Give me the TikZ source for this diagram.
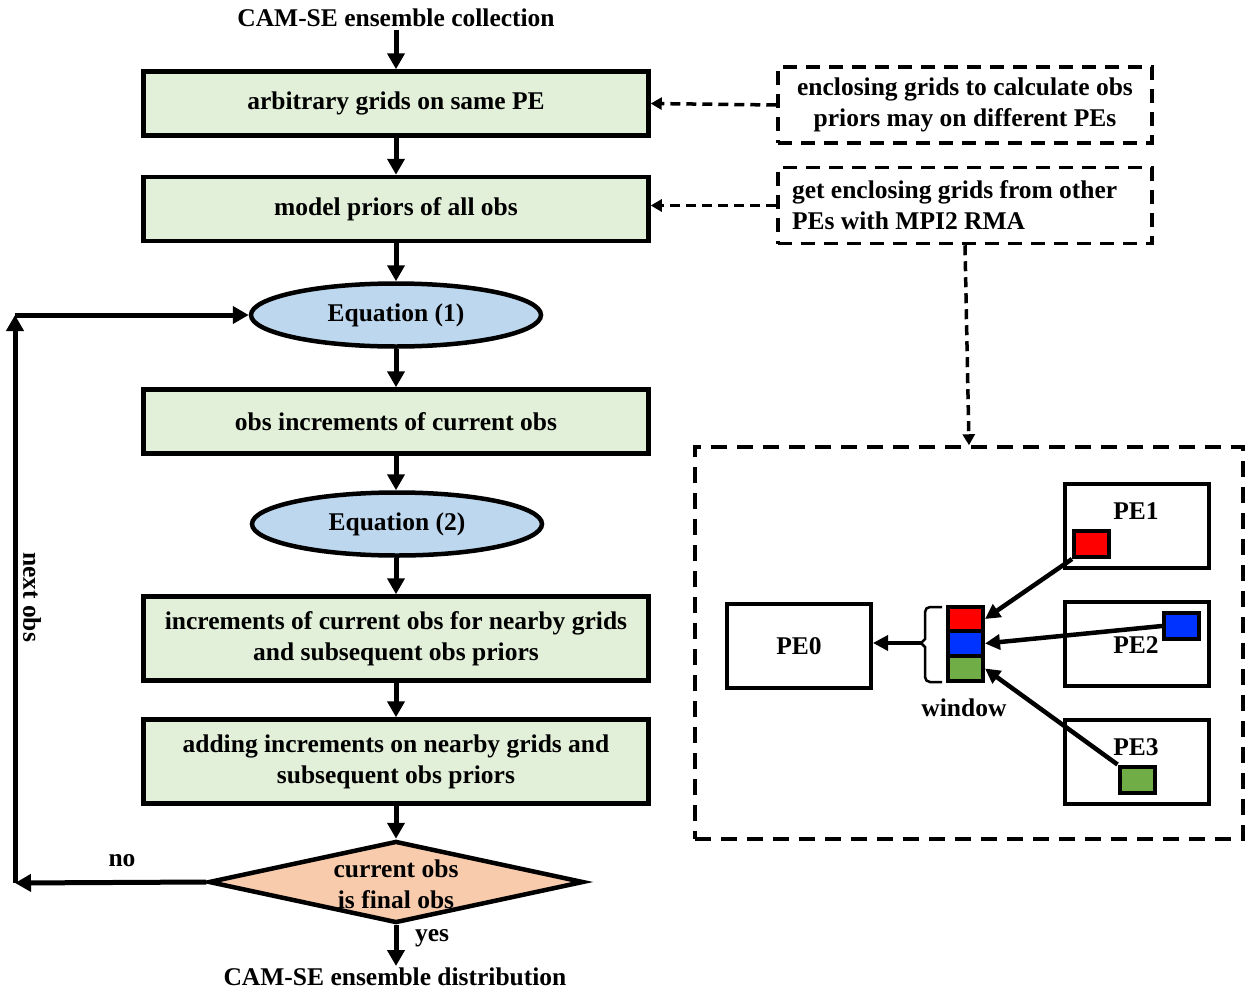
\documentclass[tikz,border=0pt]{standalone}
\usepackage{fontspec}
\setmainfont{Liberation Serif}
\usetikzlibrary{arrows.meta,shapes.geometric,positioning,calc}
\definecolor{boxgreen}{HTML}{E2EFD9}
\definecolor{ellblue}{HTML}{BDD7EE}
\definecolor{diaorange}{HTML}{F8CBAD}
\definecolor{sqred}{HTML}{FF0000}
\definecolor{sqblue}{HTML}{0033FF}
\definecolor{sqgreen}{HTML}{70AD47}
\begin{document}
\begin{tikzpicture}[x=1pt,y=-1pt,
  every node/.style={font=\fontsize{25.5}{31}\selectfont\bfseries, text=black},
  flowbox/.style={draw, line width=4.5pt, fill=boxgreen, minimum width=505pt, minimum height=64pt, inner sep=0pt, align=center},
  flowbox2/.style={flowbox, minimum height=84pt},
  eqell/.style={draw, ellipse, line width=4.5pt, fill=ellblue, minimum width=290pt, minimum height=63pt, inner sep=0pt},
  decdia/.style={draw, diamond, line width=4.5pt, fill=diaorange, minimum width=375pt, minimum height=82pt, inner sep=0pt},
  notebox/.style={draw, line width=3.5pt, dash pattern=on 14pt off 9pt, minimum width=374pt, minimum height=76pt, inner sep=0pt},
  pebox/.style={draw, line width=4pt, minimum width=144pt, minimum height=84pt, inner sep=0pt},
  sq/.style={draw, line width=4pt, minimum width=35pt, minimum height=26pt, inner sep=0pt},
  wsq/.style={draw, line width=4pt, minimum width=35pt, minimum height=25pt, inner sep=0pt},
  flow/.style={line width=5pt, -{Triangle[length=16pt,width=17pt]}},
  dflow/.style={line width=3.5pt, dash pattern=on 10pt off 6pt, -{Triangle[length=11pt,width=12pt]}},
  thinflow/.style={line width=4.5pt, -{Triangle[length=15pt,width=15pt]}}
]
\useasboundingbox (0,0) rectangle (1245,993);

% left flowchart
\node (top) at (396,18) {CAM-SE ensemble collection};
\node[flowbox] (b1) at (396,103.5) {\raisebox{-2pt}{arbitrary grids on same PE}};
\node[flowbox] (b2) at (396,209) {\raisebox{-2pt}{model priors of all obs}};
\node[eqell] (e1) at (396,315) {Equation (1)};
\node[flowbox] (b3) at (396,421.5) {obs increments of current obs};
\node[eqell] (e2) at (397,524) {Equation (2)};
\node[flowbox2] (b4) at (396,638.5) {increments of current obs for nearby grids\\and subsequent obs priors};
\node[flowbox2] (b5) at (396,761.5) {adding increments on nearby grids and\\subsequent obs priors};
\node[decdia] (dec) at (396,882) {};
\node[align=center] (dectext) at (396,884) {current obs\\is final obs};
\node (bot) at (395,977) {CAM-SE ensemble distribution};
\node (yes) at (432,938) {yes};
\node (no) at (122,861) {no};
\node[rotate=-90] (next) at (32,597) {next obs};

\coordinate (cb) at (15,883);
\coordinate (ct) at (15,315);
\coordinate (ytop) at (396,30);
\coordinate (ybot) at (396,966);

\draw[flow] (ytop) -- (b1.north);
\draw[flow] (b1.south) -- (b2.north);
\draw[flow] (b2.south) -- (e1.north);
\draw[flow] (e1.south) -- (b3.north);
\draw[flow] (b3.south) -- (b3.south |- e2.north);
\draw[flow] (e2.south -| b4.north) -- (b4.north);
\draw[flow] (b4.south) -- (b5.north);
\draw[flow] (b5.south) -- (dec.north);
\draw[flow] (dec.south) -- (ybot);
\draw[flow] (dec.west) -- (cb);
\draw[flow] (cb) -- (ct);
\draw[flow] (ct) -- (e1.west);

% right notes
\node[notebox, align=center] (n1) at (965,105) {enclosing grids to calculate obs\\priors may on different PEs};
\node[notebox, align=flush left, text width=346pt] (n2) at (965,205.5) {get enclosing grids from other\\PEs with MPI2 RMA};
\draw[dflow] (n1.west) -- (b1.east);
\draw[dflow] (n2.west) -- (b2.east |- n2.west);
\node[draw, line width=3.5pt, dash pattern=on 16pt off 10pt, minimum width=548pt, minimum height=392pt, inner sep=0pt] (big) at (969,643) {};
\draw[dflow] (n2.south) -- (big.north);

% PE boxes
\node[pebox] (pe0) at (799,646) {PE0};
\node[pebox] (pe1) at (1137,526) {};
\node (pe1l) at (1136,511) {PE1};
\node[pebox] (pe2) at (1137,644) {};
\node (pe2l) at (1136,645) {PE2};
\node[pebox] (pe3) at (1137,762) {};
\node (pe3l) at (1136,747) {PE3};
\node[sq, fill=sqred] (r1) at (1091.5,544) {};
\node[sq, fill=sqblue] (bl2) at (1181.5,626) {};
\node[sq, fill=sqgreen] (g3) at (1137,779.5) {};

% window stack
\node[wsq, fill=sqred] (wr) at (965.5,619) {};
\node[wsq, fill=sqblue] (wb) at (965.5,643.5) {};
\node[wsq, fill=sqgreen] (wg) at (965.5,668.5) {};
\node (win) at (964,708) {window};
\draw[line width=2.5pt, rounded corners=5pt] (942,607) -- (925,607) -- (925,630);
\draw[line width=2.5pt] (925,630) -- (925,639) -- (921,643) -- (925,647) -- (925,660);
\draw[line width=2.5pt, rounded corners=5pt] (925,660) -- (925,682) -- (942,682);
\coordinate (brm) at (921,643);
\draw[thinflow, line width=3.5pt] (brm) -- (pe0.east |- brm);

\draw[thinflow] (r1.south west) -- (wr.east);
\draw[thinflow] (bl2.west) -- (wb.east);
\draw[thinflow] (g3.north west) -- (wg.east);
\end{tikzpicture}
\end{document}
